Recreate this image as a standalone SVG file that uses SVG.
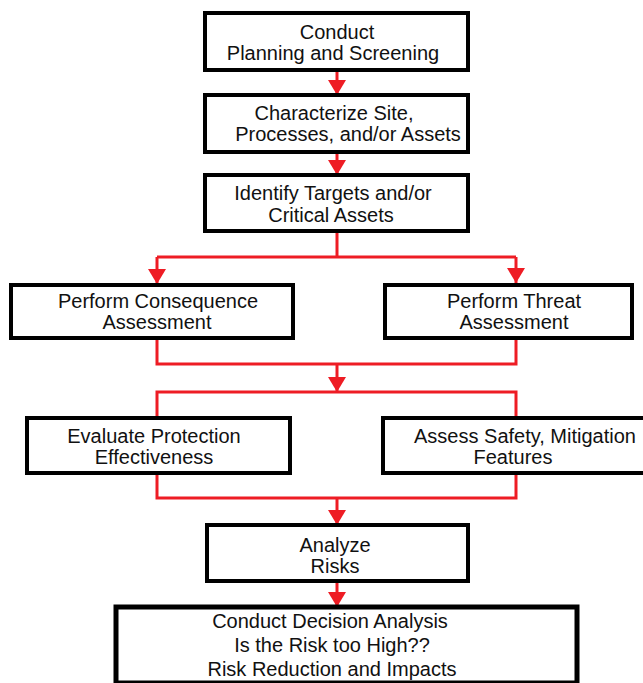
<svg xmlns="http://www.w3.org/2000/svg" width="643" height="683" viewBox="0 0 643 683">
<style>
.box{fill:#fff;stroke:#000;stroke-width:4}
.big{stroke-width:5}
.t{font-family:"Liberation Sans",Arial,Helvetica,sans-serif;font-size:20px;fill:#111;text-anchor:middle}
.c{fill:none;stroke:#ee1c24;stroke-width:3}
</style>
<defs>
<marker id="ah" markerUnits="userSpaceOnUse" markerWidth="16" markerHeight="20" refX="15" refY="9" orient="auto" viewBox="0 0 16 20">
<path d="M0,0 L15,9 L0,18 z" fill="#ee1c24"/>
</marker>
</defs>
<rect width="643" height="683" fill="#fff"/>
<g id="connectors">
<path class="c" d="M337,70 V95" marker-end="url(#ah)"/>
<path class="c" d="M337,152 V175" marker-end="url(#ah)"/>
<path class="c" d="M337,231 V257 M157,257 H516"/>
<path class="c" d="M157,257 V284" marker-end="url(#ah)"/>
<path class="c" d="M516,257 V283" marker-end="url(#ah)"/>
<path class="c" d="M157,338 V364 H516 V338"/>
<path class="c" d="M337,364 V392" marker-end="url(#ah)"/>
<path class="c" d="M157,418 V392 H516 V418"/>
<path class="c" d="M157,473 V498 H516 V473"/>
<path class="c" d="M337,498 V525" marker-end="url(#ah)"/>
<path class="c" d="M337,581 V607" marker-end="url(#ah)"/>
</g>
<g id="n1">
<rect class="box" x="205" y="13" width="263" height="57"/>
<text class="t" x="337" y="39">Conduct</text>
<text class="t" x="333" y="60">Planning and Screening</text>
</g>
<g id="n2">
<rect class="box" x="205" y="95" width="263" height="57"/>
<text class="t" x="334" y="120">Characterize Site,</text>
<text class="t" x="348" y="141">Processes, and/or Assets</text>
</g>
<g id="n3">
<rect class="box" x="205" y="175" width="263" height="56"/>
<text class="t" x="333" y="200">Identify Targets and/or</text>
<text class="t" x="331" y="222">Critical Assets</text>
</g>
<g id="n4">
<rect class="box" x="11" y="285" width="282" height="53"/>
<text class="t" x="158" y="308">Perform Consequence</text>
<text class="t" x="157" y="329">Assessment</text>
</g>
<g id="n5">
<rect class="box" x="385" y="285" width="247" height="53"/>
<text class="t" x="514" y="308">Perform Threat</text>
<text class="t" x="514" y="329">Assessment</text>
</g>
<g id="n6">
<rect class="box" x="27" y="418" width="263" height="55"/>
<text class="t" x="154" y="443">Evaluate Protection</text>
<text class="t" x="154" y="464">Effectiveness</text>
</g>
<g id="n7">
<rect class="box" x="383" y="418" width="270" height="55"/>
<text class="t" x="525" y="443">Assess Safety, Mitigation</text>
<text class="t" x="513" y="464">Features</text>
</g>
<g id="n8">
<rect class="box" x="207" y="525" width="261" height="56"/>
<text class="t" x="335" y="552">Analyze</text>
<text class="t" x="335" y="573">Risks</text>
</g>
<g id="n9">
<rect class="box big" x="116" y="607" width="461" height="76"/>
<text class="t" x="330" y="628">Conduct Decision Analysis</text>
<text class="t" x="332" y="652">Is the Risk too High??</text>
<text class="t" x="332" y="676">Risk Reduction and Impacts</text>
</g>
</svg>
